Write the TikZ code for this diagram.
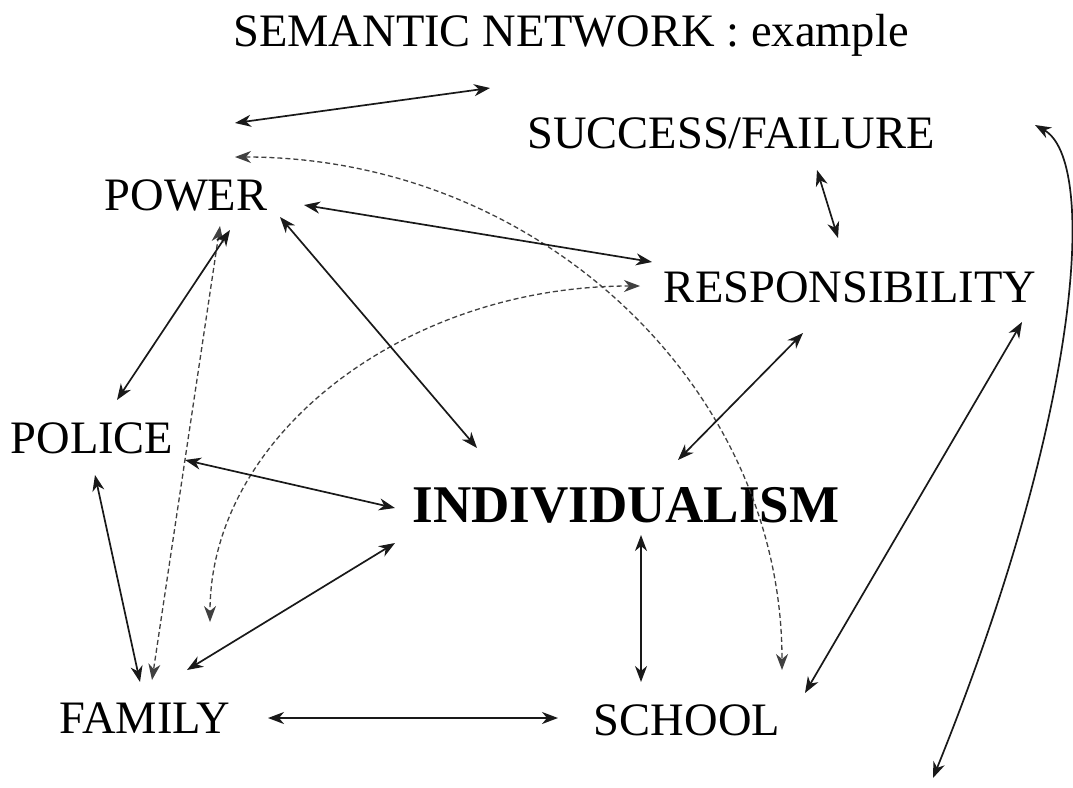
\documentclass[tikz,border=0pt]{standalone}
\usepackage{fontspec}
\setmainfont{Liberation Serif}
\usetikzlibrary{arrows.meta}
\begin{document}
\begin{tikzpicture}[x=1pt,y=-1pt,
  lbl/.style={inner sep=0pt,anchor=base,font=\fontsize{46.5}{50}\selectfont},
  big/.style={inner sep=0pt,anchor=base,font=\fontsize{53}{58}\selectfont\bfseries},
  tip/.tip={Stealth[length=16pt,width=12pt,inset=5pt]},
  dbl/.style={{tip}-{tip},line width=1.7pt,black!90},
  dsh/.style={{tip}-{tip},line width=1.3pt,black!75,dash pattern=on 5pt off 3pt}]
\fill[white] (0,0) rectangle (1073,787);
\useasboundingbox (0,0) rectangle (1073,787);
% nodes
\node[lbl] (title) at (571,46) {SEMANTIC NETWORK : example};
\node[lbl] (succ) at (731,148) {SUCCESS/FAILURE};
\node[lbl] (power) at (186,210) {POWER};
\node[lbl] (resp) at (850,302) {RESPONSIBILITY};
\node[lbl] (police) at (92,453) {POLICE};
\node[big] (indiv) at (626,522) {INDIVIDUALISM};
\node[lbl] (family) at (145,733) {FAMILY};
\node[lbl] (school) at (687,735) {SCHOOL};
% free ends
\coordinate (t1) at (235,123);
\coordinate (t2) at (490,88);
\coordinate (c1) at (1035,125);
\coordinate (c2) at (933,778);
% connectors
\draw[dbl] (t1) -- (t2);
\draw[dbl] (c1) .. controls (1098,160) and (1082,410) .. (c2);
\draw[dsh] ([shift={(49,-53)}]power.base) .. controls (539,157) and (782,387) .. ([shift={(95,-65)}]school.base);
\draw[dsh] ([shift={(-210,-16)}]resp.base) .. controls (403,286) and (210,437) .. ([shift={(65,-111)}]family.base);
\draw[dsh] ([shift={(34,16)}]power.base) -- ([shift={(7,-53)}]family.base);
\draw[dbl] ([shift={(118,-5)}]power.base) -- ([shift={(-198,-40)}]resp.base);
\draw[dbl] ([shift={(94,7)}]power.base) -- ([shift={(-149,-74)}]indiv.base);
\draw[dbl] ([shift={(44,20)}]power.base) -- ([shift={(25,-53)}]police.base);
\draw[dbl] ([shift={(93,7)}]police.base) -- ([shift={(-231,-14)}]indiv.base);
\draw[dbl] ([shift={(3,22)}]police.base) -- ([shift={(-5,-51)}]family.base);
\draw[dbl] ([shift={(42,-63)}]family.base) -- ([shift={(-231,21)}]indiv.base);
\draw[dbl] ([shift={(123,-15)}]family.base) -- ([shift={(-129,-17)}]school.base);
\draw[dbl] ([shift={(15,13)}]indiv.base) -- ([shift={(-46,-53)}]school.base);
\draw[dbl] ([shift={(52,-62)}]indiv.base) -- ([shift={(-47,31)}]resp.base);
\draw[dbl] ([shift={(86,22)}]succ.base) -- ([shift={(-12,-64)}]resp.base);
\draw[dbl] ([shift={(172,20)}]resp.base) -- ([shift={(118,-42)}]school.base);
\end{tikzpicture}
\end{document}
